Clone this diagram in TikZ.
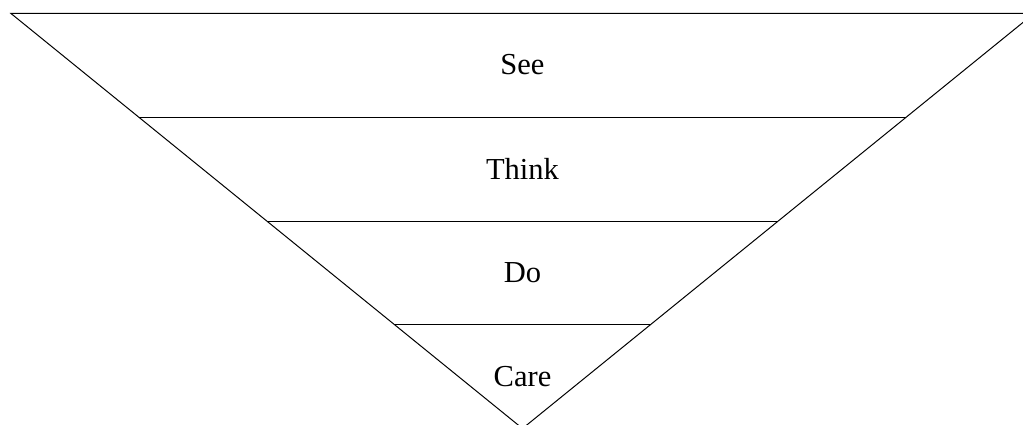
\documentclass[tikz,border=0pt]{standalone}
\usepackage{fontspec}
\setmainfont{Liberation Serif}
\usetikzlibrary{calc}
\begin{document}
\begin{tikzpicture}[x=1pt,y=-1pt,
  edge/.style={line width=1pt},
  label/.style={font=\fontsize{30.5}{36}\selectfont, inner sep=0pt, anchor=center}]
\useasboundingbox (0,0) rectangle (1023,425);
\clip (0,0) rectangle (1023,425);
\coordinate (tl) at (11,13.5);
\coordinate (tr) at (1034,13.5);
\coordinate (ap) at (522.5,428.5);
\coordinate (l1) at ($(tl)!0.25!(ap)$);
\coordinate (r1) at ($(tr)!0.25!(ap)$);
\coordinate (l2) at ($(tl)!0.5!(ap)$);
\coordinate (r2) at ($(tr)!0.5!(ap)$);
\coordinate (l3) at ($(tl)!0.75!(ap)$);
\coordinate (r3) at ($(tr)!0.75!(ap)$);
\draw[edge] (tl) -- (tr) -- (ap) -- cycle;
\draw[edge] (l1) -- (r1);
\draw[edge] (l2) -- (r2);
\draw[edge] (l3) -- (r3);
\node[label] (see) at (522.5,65) {See};
\node[label] (think) at (522.5,169) {Think};
\node[label] (do) at (522.5,273) {Do};
\node[label] (care) at (522.5,377) {Care};
\end{tikzpicture}
\end{document}
